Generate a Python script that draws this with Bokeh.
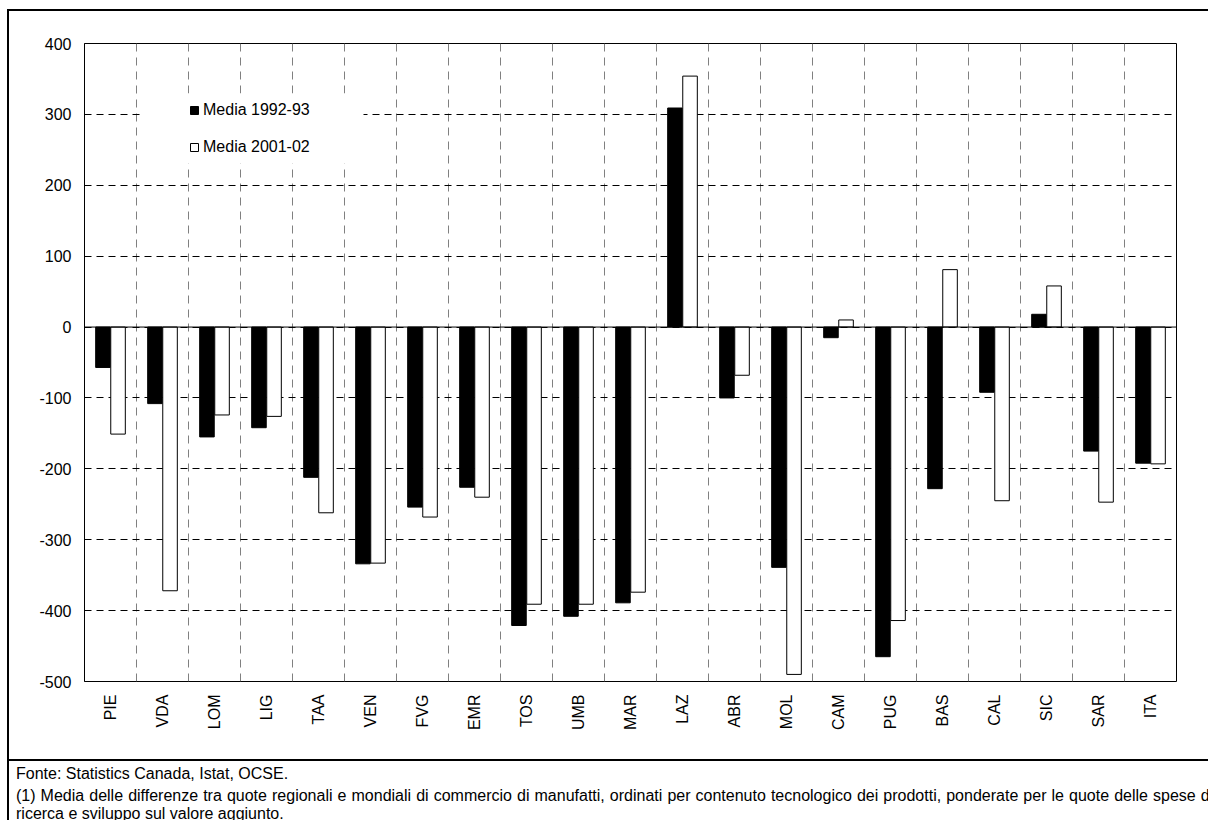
import numpy as np
from bokeh.plotting import figure
from bokeh.models import (ColumnDataSource, Range1d, FixedTicker, BoxAnnotation,
                          Legend, LegendItem, Span, Div)
from bokeh.layouts import column, row
from bokeh.transform import dodge
from bokeh.embed import file_html
from bokeh.resources import INLINE

# ---------------- data ----------------
regions = ["PIE", "VDA", "LOM", "LIG", "TAA", "VEN", "FVG", "EMR", "TOS", "UMB", "MAR",
           "LAZ", "ABR", "MOL", "CAM", "PUG", "BAS", "CAL", "SIC", "SAR", "ITA"]
media_1992_93 = [-57, -108, -155, -142, -212, -334, -254, -226, -421, -408, -389,
                 309, -100, -339, -15, -465, -228, -92, 18, -175, -192]
media_2001_02 = [-151, -372, -124, -126, -262, -333, -268, -240, -391, -391, -374,
                 354, -68, -490, 10, -414, 81, -245, 58, -247, -193]
y_ticks = [400, 300, 200, 100, 0, -100, -200, -300, -400, -500]
series_labels = ["Media 1992-93", "Media 2001-02"]
footer_source = "Fonte: Statistics Canada, Istat, OCSE."
footer_note_1 = ("(1) Media delle differenze tra quote regionali e mondiali di commercio di manufatti, "
                 "ordinati per contenuto tecnologico dei prodotti, ponderate per le quote delle spese di")
footer_note_2 = "ricerca e sviluppo sul valore aggiunto."

FONT = "Liberation Sans"
n = len(regions)
centers = [i + 0.5 for i in range(n)]
bounds = [i for i in range(1, n + 1)]

src = ColumnDataSource(dict(x=centers, a=media_1992_93, b=media_2001_02, region=regions))

p = figure(width=1199, height=748, x_range=Range1d(0, n), y_range=Range1d(y_ticks[-1], y_ticks[0]),
           output_backend="svg", toolbar_location=None,
           min_border_left=75, min_border_right=32, min_border_top=32, min_border_bottom=78)
p.margin = 0
p.background_fill_color = "white"
p.border_fill_color = "white"
p.outline_line_color = "black"
p.outline_line_width = 1

# grids
p.xgrid.ticker = FixedTicker(ticks=bounds)
p.xgrid.grid_line_color = "#808080"
p.xgrid.grid_line_dash = "8 6"
p.xgrid.grid_line_width = 1
p.ygrid.ticker = FixedTicker(ticks=y_ticks)
p.ygrid.grid_line_color = "black"
p.ygrid.grid_line_dash = "7 5"
p.ygrid.grid_line_width = 1

# axes
p.xaxis.ticker = FixedTicker(ticks=centers)
p.xaxis.major_label_overrides = {c: r for c, r in zip(centers, regions)}
p.xaxis.major_label_orientation = np.pi / 2
p.xaxis.axis_line_color = None
p.xaxis.major_label_standoff = 13
p.yaxis.ticker = FixedTicker(ticks=y_ticks)
p.yaxis.major_label_overrides = {v: str(v) for v in y_ticks}
p.yaxis.axis_line_color = "black"
p.yaxis.major_label_standoff = 13
for ax in (p.xaxis, p.yaxis):
    ax.major_tick_out = 0
    ax.major_tick_in = 0
    ax.minor_tick_out = 0
    ax.minor_tick_in = 0
    ax.major_label_text_font = FONT
    ax.major_label_text_font_size = "16px"
    ax.major_label_text_color = "black"

p.add_layout(Span(location=0, dimension="width", line_color="black", line_width=1))

r1 = p.vbar(x=dodge("x", -0.145), top="a", bottom=0, width=0.28, source=src,
            fill_color="black", line_color="black", line_width=1)
r2 = p.vbar(x=dodge("x", 0.145), top="b", bottom=0, width=0.28, source=src,
            fill_color="white", line_color="black", line_width=1)

# white area behind the legend (interrupts grid lines as in the original)
p.add_layout(BoxAnnotation(left=56, right=279, top=588, bottom=518,
                           left_units="screen", right_units="screen",
                           top_units="screen", bottom_units="screen",
                           fill_color="white", fill_alpha=1, line_alpha=0))

legend = Legend(items=[LegendItem(label=series_labels[0], renderers=[r1]),
                       LegendItem(label=series_labels[1], renderers=[r2])],
                location=(105, 525), orientation="vertical",
                glyph_width=10, glyph_height=10, label_standoff=4, spacing=19,
                padding=0, margin=0, border_line_color=None, background_fill_alpha=0,
                label_text_font=FONT, label_text_font_size="16px",
                label_text_color="black", label_height=10)
p.add_layout(legend)

# ---------------- frame lines and footer ----------------
def bar_div(w, h):
    return Div(text="", width=w, height=h, margin=0,
               styles={"background-color": "black"})

line_style = ("position:absolute;white-space:nowrap;font-family:'Liberation Sans';"
              "font-size:16px;line-height:20px;color:black;")
footer_html = (
    '<div style="position:relative;width:1199px;height:59px;overflow:hidden;">'
    f'<div style="{line_style}left:7px;top:3px;">{footer_source}</div>'
    f'<div style="{line_style}left:7px;top:25px;word-spacing:0.62px;">{footer_note_1}</div>'
    f'<div style="{line_style}left:7px;top:43px;">{footer_note_2}</div>'
    '</div>'
)
footer = Div(text=footer_html, width=1199, height=59, margin=0,
             styles={"overflow": "hidden", "background-color": "white"})

layout = column(
    bar_div(1201, 2),
    row(bar_div(2, 748), p, spacing=0, margin=0),
    bar_div(1201, 2),
    row(bar_div(2, 59), footer, spacing=0, margin=0),
    spacing=0, margin=(9, 0, 0, 7),
)

open("out.html", "w").write(file_html(layout, INLINE))
